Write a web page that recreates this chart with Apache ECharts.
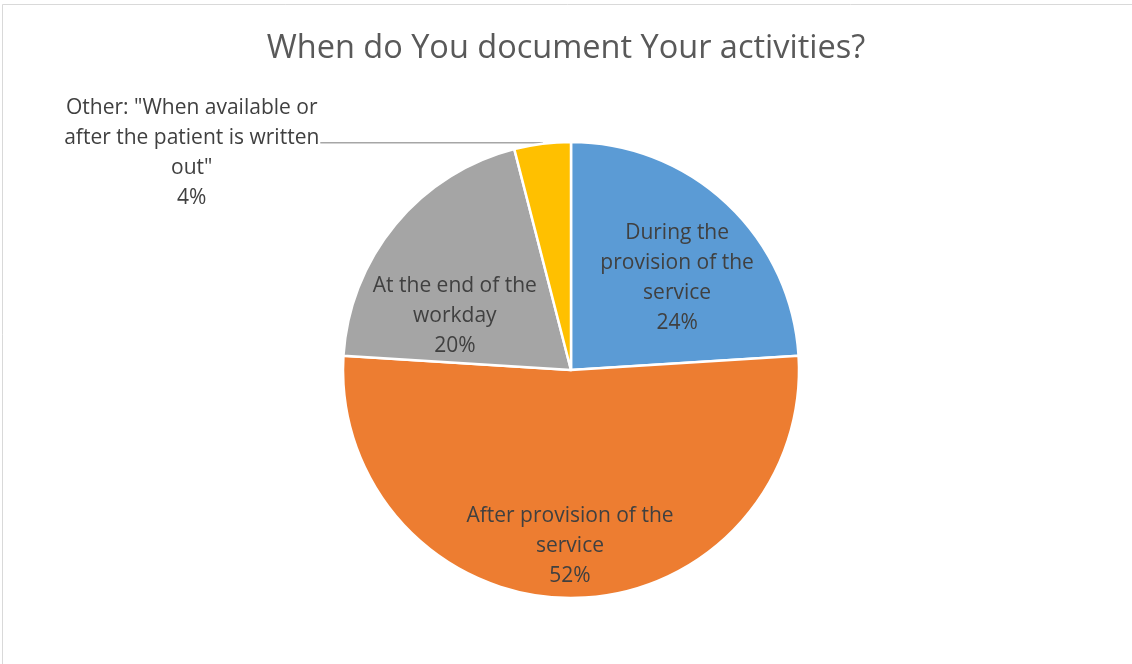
<!DOCTYPE html>
<html>
<head>
<meta charset="utf-8">
<script src="https://cdn.jsdelivr.net/npm/echarts@6/dist/echarts.min.js"></script>
<style>
  html, body { margin: 0; padding: 0; background: #fff; }
  #chart { width: 1132px; height: 664px; }
</style>
</head>
<body>
<div id="chart"></div>
<script>
// Survey answers: when respondents document their activities (share in %)
const titleText = 'When do You document Your activities?';
const categories = [
  'During the\nprovision of the\nservice',
  'After provision of the\nservice',
  'At the end of the\nworkday',
  'Other: "When available or\nafter the patient is written\nout"'
];
const shares = [24, 52, 20, 4];
const sliceColors = ['#5B9BD5', '#ED7D31', '#A5A5A5', '#FFC000'];

// nudges for the inside labels, relative to ECharts' default mid-radius spot
const labelNudge = [[26, -7], [-1, 59], [-26, 21], [0, 0]];

const fontFamily = '"Open Sans", "Noto Sans", "DejaVu Sans", sans-serif';
const labelSize = 21;

const pieData = categories.map((name, i) => {
  const item = {
    name: name,
    value: shares[i],
    itemStyle: { color: sliceColors[i] }
  };
  if (i === 3) {
    // the small slice gets an outside label with a leader line
    item.label = {
      position: 'outside',
      formatter: p => p.name.split('\n').concat([p.value + '%'])
        .map(line => '{c|' + line + '}').join('\n'),
      rich: {
        c: { align: 'center', fontSize: labelSize, lineHeight: 30, color: '#404040', fontFamily: fontFamily }
      },
      padding: [20, 0, 0, 0],
      distanceToLabelLine: 1
    };
    item.labelLine = {
      show: true,
      length: 1,
      length2: 222,
      lineStyle: { color: '#A6A6A6', width: 1.5 }
    };
  }
  return item;
});

const chart = echarts.init(document.getElementById('chart'), null, { renderer: 'canvas' });
chart.setOption({
  backgroundColor: '#ffffff',
  animation: false,
  title: {
    text: titleText,
    left: 'center',
    top: 27,
    textStyle: { fontSize: 32.5, fontWeight: 'normal', color: '#595959', fontFamily: fontFamily }
  },
  graphic: [{
    type: 'rect',
    shape: { x: 2.5, y: 4.5, width: 1140, height: 680 },
    style: { fill: 'none', stroke: '#D9D9D9', lineWidth: 1 },
    silent: true,
    z: -10
  }],
  series: [{
    type: 'pie',
    center: [571, 370],
    radius: [0, 228],
    startAngle: 90,
    clockwise: true,
    avoidLabelOverlap: false,
    itemStyle: { borderColor: '#ffffff', borderWidth: 2.5 },
    label: {
      show: true,
      position: 'inside',
      formatter: p => p.name + '\n' + p.value + '%',
      fontSize: labelSize,
      lineHeight: 30,
      color: '#404040',
      fontFamily: fontFamily,
      align: 'center'
    },
    labelLine: { show: false },
    labelLayout: function (params) {
      const n = labelNudge[params.dataIndex];
      return { dx: n[0], dy: n[1] };
    },
    emphasis: { disabled: true },
    data: pieData
  }]
});
</script>
</body>
</html>
